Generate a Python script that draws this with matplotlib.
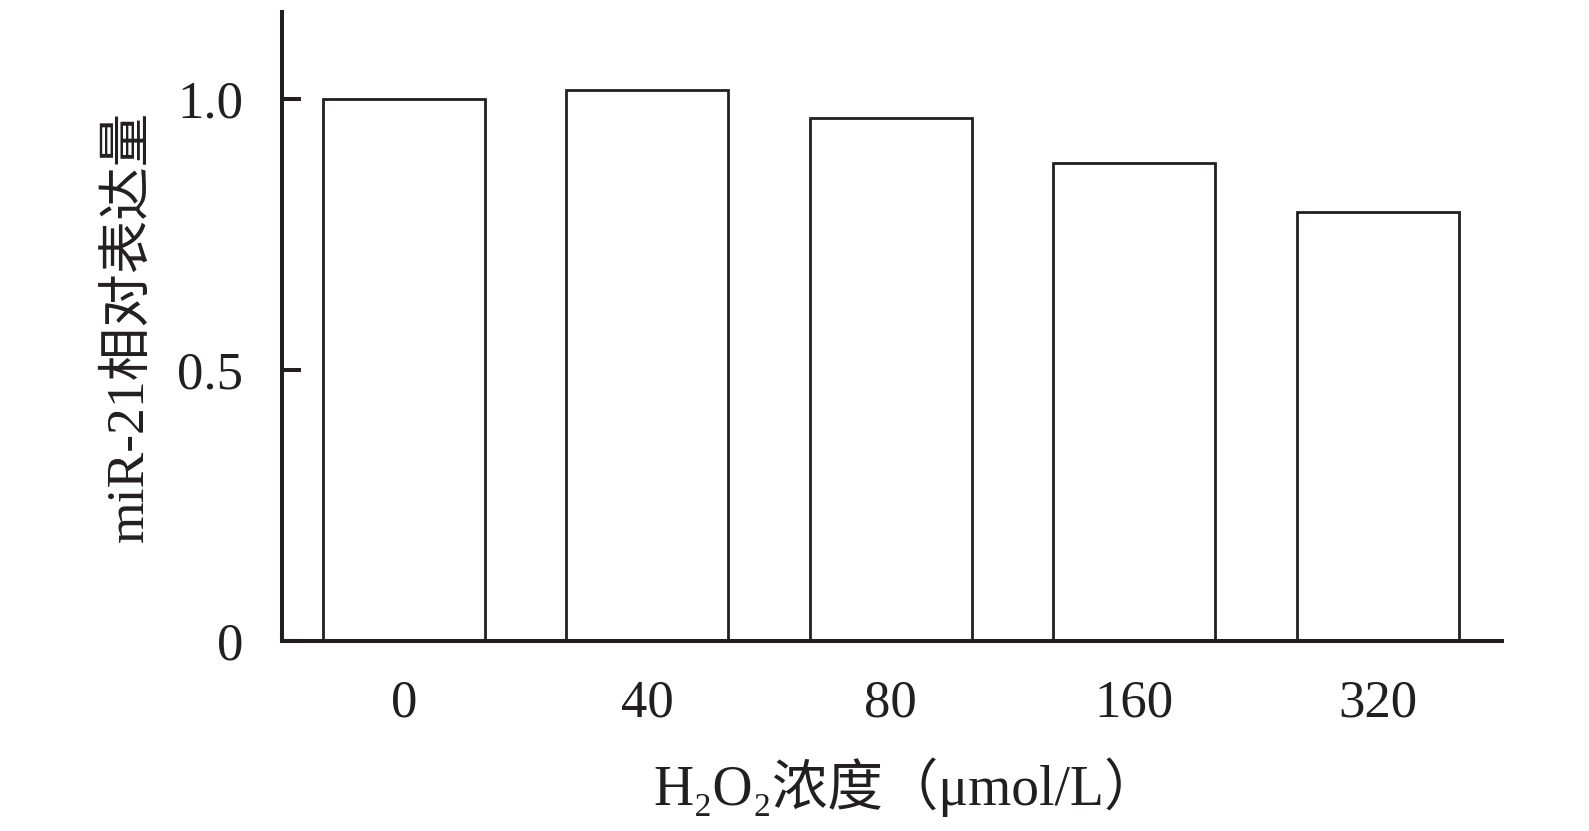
import matplotlib
matplotlib.use('Agg')
import matplotlib.pyplot as plt

# 数据
conc = ['0', '40', '80', '160', '320']
expr = [1.000, 1.017, 0.964, 0.882, 0.791]
yticks = [0, 0.5, 1.0]
ytick_labels = ['0', '0.5', '1.0']

plt.rcParams['font.family'] = ['Liberation Serif', 'DejaVu Serif', 'Noto Sans CJK SC', 'DejaVu Sans']
ink = '#231f20'

fig = plt.figure(figsize=(15.89, 8.31), dpi=100)
ax = fig.add_axes([0.1775, 0.2286, 0.7677, 0.757])

x = range(len(conc))
ax.bar(x, expr, width=0.665, color='white', edgecolor=ink, linewidth=2.0)

ax.set_xlim(-0.5, 4.51)
ax.set_ylim(0, 1.16)
ax.set_xticks(list(x))
ax.set_xticklabels(conc)
ax.set_yticks(yticks)
ax.set_yticklabels(ytick_labels)

for s in ['top', 'right']:
    ax.spines[s].set_visible(False)
for s in ['left', 'bottom']:
    ax.spines[s].set_linewidth(2.9)
    ax.spines[s].set_color(ink)

ax.tick_params(axis='y', direction='in', length=14, width=2.9, color=ink,
               labelsize=38, pad=28, labelcolor=ink)
ax.tick_params(axis='x', length=0, labelsize=38, pad=28, labelcolor=ink)

ax.set_xlabel('H₂O₂浓度（μmol/L）', fontsize=40, color=ink)
ax.xaxis.set_label_coords(0.512, -0.185)
ax.set_ylabel('miR-21相对表达量', fontsize=38.5, color=ink, labelpad=17)

fig.savefig('out.png', dpi=100)
